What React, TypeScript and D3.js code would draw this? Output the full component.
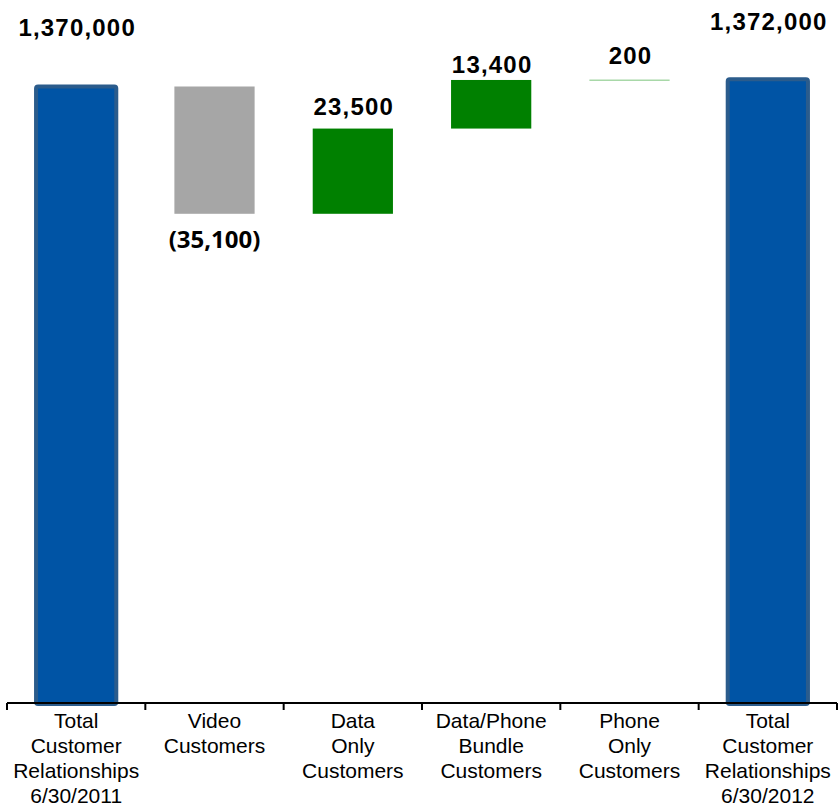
import React from "react";
import * as d3 from "d3";

const categories: string[][] = [
  ["Total", "Customer", "Relationships", "6/30/2011"],
  ["Video", "Customers"],
  ["Data", "Only", "Customers"],
  ["Data/Phone", "Bundle", "Customers"],
  ["Phone", "Only", "Customers"],
  ["Total", "Customer", "Relationships", "6/30/2012"],
];
const values: number[] = [1370000, -35100, 23500, 13400, 200, 1372000];
const kinds: string[] = ["total", "delta", "delta", "delta", "delta", "total"];
const valueLabels: string[] = ["1,370,000", "(35,100)", "23,500", "13,400", "200", "1,372,000"];

const W = 839;
const H = 807;
const labelDy = [-51, 34, -14, -7, -15, -49];

export default function App() {
  const ids = categories.map((_, i) => String(i));
  const x = d3.scaleBand<string>().domain(ids).range([7, 837]).padding(0);
  const y = d3.scaleLinear().domain([1200000, 1370000]).range([703, 86.5]);
  const barW = x.bandwidth() * 0.58;

  let running = 0;
  const segs = values.map((v, i) => {
    if (kinds[i] === "total") {
      running = v;
      return { y0: 1200000, y1: v, v, kind: "total" };
    }
    const start = running;
    running = running + v;
    return { y0: Math.min(start, running), y1: Math.max(start, running), v, kind: "delta" };
  });

  const base = y.range()[0];

  return (
    <svg width={W} height={H} style={{ position: "absolute", left: 0, top: 0, background: "#fff" }}>
      {segs.map((s, i) => {
        const cx = (x(ids[i]) as number) + x.bandwidth() / 2;
        const x0 = cx - barW / 2;
        if (s.kind === "total") {
          const top = y(s.y1);
          return (
            <rect key={i} x={x0} y={top} width={barW} height={base + 1 - top}
              fill="#0054A5" stroke="#2B5C8C" strokeWidth={4} rx={2} />
          );
        }
        const top = y(s.y1);
        const bot = y(s.y0);
        const h = bot - top;
        if (h < 2) {
          return (
            <line key={i} x1={x0} x2={x0 + barW} y1={top + 1} y2={top + 1}
              stroke="#A8D8A8" strokeWidth={1.5} />
          );
        }
        return (
          <rect key={i} x={x0} y={top} width={barW} height={h}
            fill={s.v < 0 ? "#A6A6A6" : "#008000"} />
        );
      })}

      {segs.map((s, i) => {
        const cx = (x(ids[i]) as number) + x.bandwidth() / 2;
        const neg = s.v < 0;
        const yy = neg ? y(s.y0) + labelDy[i] : y(s.y1) + labelDy[i];
        return (
          <text key={"l" + i} x={cx + (neg ? 0 : 1)} y={yy} textAnchor="middle"
            fontFamily={neg ? "'Open Sans', sans-serif" : "'Liberation Sans', Arial, sans-serif"}
            fontWeight="bold" fontSize={24} letterSpacing={neg ? 0 : 1.2} fill="#000">
            {valueLabels[i]}
          </text>
        );
      })}

      <line x1={x.range()[0]} x2={x.range()[1]} y1={base} y2={base} stroke="#000" strokeWidth={2} />
      {[...ids.map((id) => x(id) as number), x.range()[1]].map((tx, i) => (
        <line key={"t" + i} x1={tx} x2={tx} y1={base} y2={base + 7} stroke="#000" strokeWidth={2} />
      ))}
      {categories.map((lines, i) => {
        const cx = (x(ids[i]) as number) + x.bandwidth() / 2;
        return (
          <text key={"c" + i} textAnchor="middle" fontFamily="'Liberation Sans', Arial, sans-serif"
            fontSize={21} fill="#000">
            {lines.map((ln, j) => (
              <tspan key={j} x={cx} y={728 + j * 25}>{ln}</tspan>
            ))}
          </text>
        );
      })}
    </svg>
  );
}
